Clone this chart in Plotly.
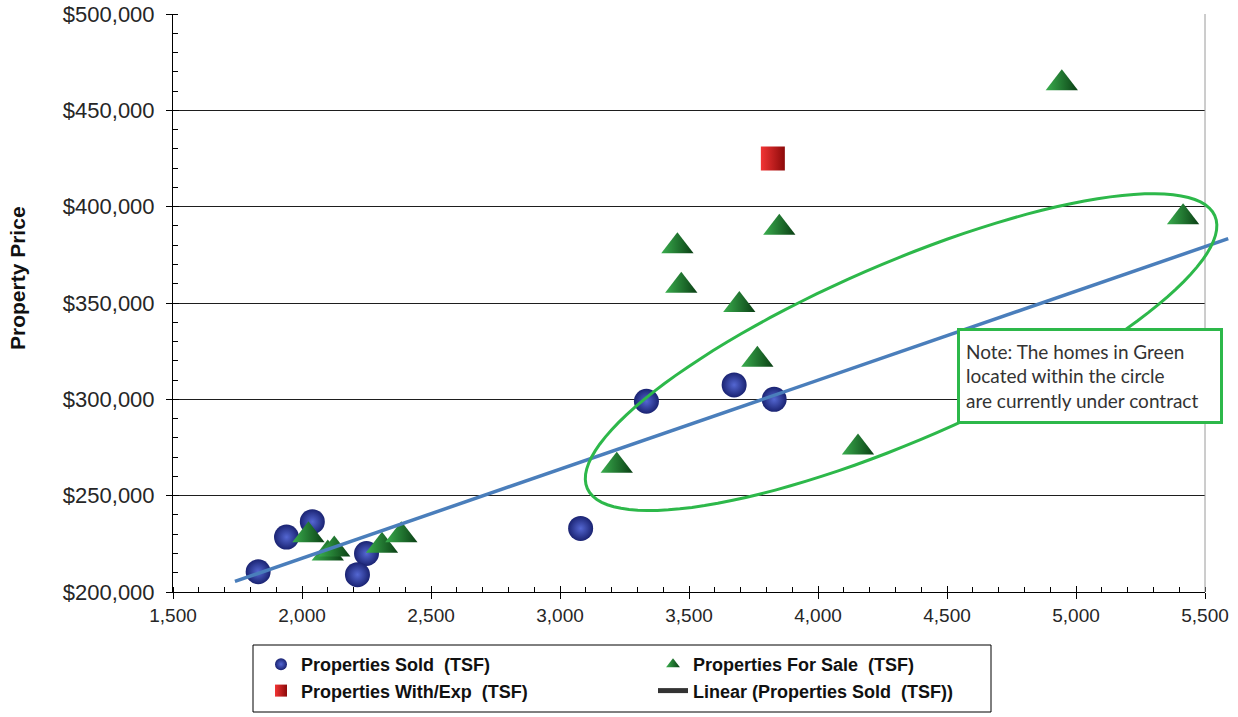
import numpy as np
import plotly.graph_objects as go

# Total square feet (TSF) and price for each group of homes
sold_sqft = [1830, 1940, 2040, 2250, 2215, 3080, 3335, 3675, 3830]
sold_price = [210500, 228500, 236500, 220000, 209000, 233000, 299000, 307500, 300000]

for_sale_sqft = [4945, 5415, 3850, 3455, 3470, 3695, 3765, 3220, 4155,
                 2025, 2100, 2125, 2310, 2385]
for_sale_price = [464000, 394500, 389000, 379500, 359000, 349000, 320500, 265500, 275000,
                  229500, 220000, 222000, 224000, 229500]

withdrawn_sqft = [3825]
withdrawn_price = [425000]

# Axis ticks and their labels
x_ticks = [1500, 2000, 2500, 3000, 3500, 4000, 4500, 5000, 5500]
x_tick_labels = ["1,500", "2,000", "2,500", "3,000", "3,500", "4,000", "4,500", "5,000", "5,500"]
y_ticks = [200000, 250000, 300000, 350000, 400000, 450000, 500000]
y_tick_labels = ["$200,000", "$250,000", "$300,000", "$350,000", "$400,000", "$450,000", "$500,000"]

# Linear trendline of the sold homes, forecast backward/forward over this span
trend_span = [1740, 5590]

# Highlight ellipse (data units): centre, end of major axis, end of minor axis
ellipse_center = (4322, 324500)
ellipse_major_end = (5538, 395300)
ellipse_minor_end = (4461, 282700)

note_text = ("Note: The homes in Green<br>located within the circle<br>"
             "are currently under contract")

# ---------------------------------------------------------------------------
W, H = 1238, 717
M_L, M_R, M_T, M_B = 173, 5, 14, 125
plot_w = W - M_L - M_R
plot_h = H - M_T - M_B
main_w = 1032                     # width of the visible plotting region
main_frac = main_w / plot_w
X_RANGE = [x_ticks[0], x_ticks[-1]]
Y_RANGE = [y_ticks[0], y_ticks[-1]]
# wider helper axis (same scale) so the trendline/ellipse can run past the frame
X2_RANGE = [X_RANGE[0], X_RANGE[0] + (X_RANGE[1] - X_RANGE[0]) / main_frac]

slope, intercept = np.polyfit(sold_sqft, sold_price, 1)
trend_x = np.array(trend_span, dtype=float)
trend_y = slope * trend_x + intercept

t = np.linspace(0, 2 * np.pi, 121)
cx, cy = ellipse_center
ex = cx + (ellipse_major_end[0] - cx) * np.cos(t) + (ellipse_minor_end[0] - cx) * np.sin(t)
ey = cy + (ellipse_major_end[1] - cy) * np.cos(t) + (ellipse_minor_end[1] - cy) * np.sin(t)
ellipse_path = "M " + " L ".join(f"{a:.2f},{b:.2f}" for a, b in zip(ex, ey)) + " Z"

SANS = "Liberation Sans, Arial, sans-serif"


def px_to_paper_x(px):
    return (px - M_L) / plot_w


def px_to_paper_y(py):
    return 1 - (py - M_T) / plot_h


fig = go.Figure()

fig.add_trace(go.Scatter(
    x=sold_sqft, y=sold_price, mode="markers", name="Properties Sold  (TSF)",
    marker=dict(symbol="circle", size=25, color="#1a2372",
                gradient=dict(type="radial", color="#5467d2"),
                line=dict(width=0)),
))
fig.add_trace(go.Scatter(
    x=for_sale_sqft, y=for_sale_price, mode="markers", name="Properties For Sale  (TSF)",
    marker=dict(symbol="triangle-up", size=28, color="#3aae4e",
                gradient=dict(type="horizontal", color="#0a3f14"),
                line=dict(width=0)),
))
fig.add_trace(go.Scatter(
    x=withdrawn_sqft, y=withdrawn_price, mode="markers", name="Properties With/Exp  (TSF)",
    marker=dict(symbol="square", size=24, color="#f23434",
                gradient=dict(type="horizontal", color="#8c0a0a"),
                line=dict(width=0)),
))
# legend entry for the trendline
fig.add_trace(go.Scatter(
    x=[None], y=[None], mode="lines", name="Linear (Properties Sold  (TSF))",
    line=dict(color="#333333", width=1),
))
# trendline itself on the wider helper axes
fig.add_trace(go.Scatter(
    x=trend_x, y=trend_y, mode="lines", showlegend=False, hoverinfo="skip",
    line=dict(color="#4a7ebb", width=3.5),
    xaxis="x2", yaxis="y2",
))
# empty trace carrying the inside-tick overlay axes
fig.add_trace(go.Scatter(x=[], y=[], showlegend=False, xaxis="x3", yaxis="y3"))

axis_common = dict(showline=True, linecolor="black", linewidth=1, zeroline=False,
                   tickcolor="black", fixedrange=True, automargin=False)

fig.update_layout(
    width=W, height=H,
    margin=dict(l=M_L, r=M_R, t=M_T, b=M_B, autoexpand=False),
    paper_bgcolor="white",
    plot_bgcolor="rgba(0,0,0,0)",
    xaxis=dict(domain=[0, main_frac], range=X_RANGE, tickmode="array",
               tickvals=x_ticks, ticktext=x_tick_labels, ticks="outside", ticklen=6,
               showgrid=False,
               tickfont=dict(family=SANS, size=19, color="#262626"),
               minor=dict(ticks="inside", ticklen=5, dtick=100, tick0=1500,
                          tickcolor="black", showgrid=False),
               **axis_common),
    yaxis=dict(range=Y_RANGE, tickmode="array", tickvals=y_ticks, ticktext=y_tick_labels,
               ticks="outside", ticklen=6, ticklabelstandoff=7,
               showgrid=True, gridcolor="#1e1e1e", gridwidth=1,
               tickfont=dict(family=SANS, size=22, color="#262626"),
               minor=dict(ticks="inside", ticklen=5, dtick=10000, tick0=200000,
                          tickcolor="black", showgrid=False),
               **axis_common),
    xaxis2=dict(domain=[0, 1], range=X2_RANGE, anchor="y2", visible=False,
                fixedrange=True, automargin=False),
    yaxis2=dict(domain=[0, 1], range=Y_RANGE, anchor="x2", visible=False,
                fixedrange=True, automargin=False),
    xaxis3=dict(overlaying="x", anchor="y", range=X_RANGE, tickmode="array",
                tickvals=x_ticks, ticks="inside", ticklen=6, tickcolor="black",
                showticklabels=False, showgrid=False, showline=False, zeroline=False,
                fixedrange=True, automargin=False),
    yaxis3=dict(overlaying="y", anchor="x", range=Y_RANGE, tickmode="array",
                tickvals=y_ticks, ticks="inside", ticklen=6, tickcolor="black",
                showticklabels=False, showgrid=False, showline=False, zeroline=False,
                fixedrange=True, automargin=False),
    showlegend=True,
    legend=dict(
        orientation="h", xref="container", yref="container",
        x=261 / W, y=1 - 646 / H, xanchor="left", yanchor="top",
        borderwidth=0, bgcolor="rgba(0,0,0,0)",
        font=dict(family=SANS, size=18, color="#111111", weight="bold"),
        entrywidth=347, traceorder="normal", itemsizing="constant",
    ),
    shapes=[
        dict(type="path", path=ellipse_path, xref="x2", yref="y2", layer="above",
             line=dict(color="#2db84a", width=3), fillcolor="rgba(0,0,0,0)"),
        dict(type="line", xref="x2", yref="y2", x0=X_RANGE[1], x1=X_RANGE[1],
             y0=Y_RANGE[0], y1=Y_RANGE[1], line=dict(color="#9a9a9a", width=1),
             layer="below"),
        # frame around the legend
        dict(type="rect", xref="paper", yref="paper",
             x0=px_to_paper_x(253), x1=px_to_paper_x(991),
             y0=px_to_paper_y(712), y1=px_to_paper_y(645),
             line=dict(color="black", width=1), fillcolor="rgba(0,0,0,0)",
             layer="above"),
    ],
    annotations=[
        dict(text=note_text, xref="paper", yref="paper",
             x=px_to_paper_x(957), y=px_to_paper_y(328),
             xanchor="left", yanchor="top", align="left", showarrow=False,
             font=dict(family="Lato, Open Sans, sans-serif", size=19, color="#333333"),
             bgcolor="white", bordercolor="#2db84a", borderwidth=3, borderpad=6,
             width=248, height=78),
        dict(text="Property Price", xref="paper", yref="paper",
             x=px_to_paper_x(17), y=px_to_paper_y(278),
             xanchor="center", yanchor="middle", textangle=-90, showarrow=False,
             font=dict(family=SANS, size=21, color="#111111", weight="bold")),
    ],
)

fig.write_html("out.html")
